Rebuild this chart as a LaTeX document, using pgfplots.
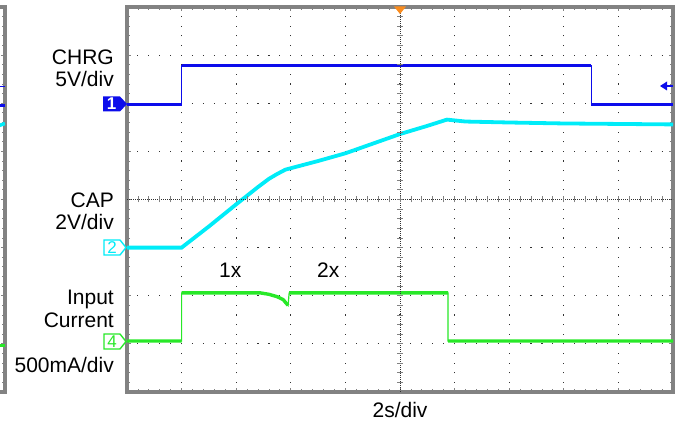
\documentclass[border=0pt]{standalone}
\usepackage{pgfplots}
\pgfplotsset{compat=1.18}
\usepackage{fontspec}
\setmainfont{Liberation Sans}
\definecolor{chblue}{RGB}{12,12,235}
\definecolor{chcyan}{RGB}{0,236,248}
\definecolor{chgreen}{RGB}{40,232,40}
\definecolor{scopegray}{RGB}{130,130,130}
\definecolor{dotgray}{RGB}{50,50,50}
\definecolor{trigorange}{RGB}{250,140,30}

% traces, x in time divisions (2 s/div), y in screen divisions
\pgfplotstableread{
x y
-5 1.98
-4.0 1.98
-4.0 2.78
3.5 2.78
3.5 1.98
5 1.98
}\chrg
\pgfplotstableread{
x y
-5 -1.0
-4.0 -1.0
-3.5 -0.56
-3.0 -0.10
-2.6 0.26
-2.4 0.43
-2.25 0.53
-2.1 0.62
-1.9 0.68
-1.5 0.80
-1.0 0.96
-0.4 1.20
0.0 1.36
0.5 1.53
0.86 1.66
1.2 1.62
2.0 1.60
3.0 1.58
4.0 1.57
5.0 1.56
}\cap
\pgfplotstableread{
x y
-5 -2.94
-4.0 -2.94
-4.0 -1.94
-2.56 -1.94
-2.40 -1.97
-2.25 -2.02
-2.14 -2.08
-2.05 -2.20
-2.03 -1.94
0.88 -1.94
0.88 -2.94
5 -2.94
}\icur

\pgfplotsset{
  scopeframe/.style={
    scale only axis, height=385bp,
    ymin=-4, ymax=4,
    ytick={-4,...,4}, minor y tick num=4,
    xticklabels={}, yticklabels={},
    tick align=inside,
    major tick length=4bp, minor tick length=3bp,
    tick style={scopegray, line width=0.8bp},
    axis line style={scopegray, line width=3.2bp},
  },
}

\begin{document}
\begin{tikzpicture}
% partial neighbouring screen at the left edge
\begin{axis}[scopeframe, at={(5bp,34bp)}, anchor=south east, width=100bp,
  xmin=0, xmax=1, xtick=\empty]
\addplot[chblue, line width=3bp] coordinates {(0.9,1.96) (1,1.96)};
\addplot[chblue, line width=1bp] coordinates {(0.9,2.34) (1,2.34)};
\addplot[chcyan, line width=3.5bp] coordinates {(0.92,1.52) (1,1.58)};
\addplot[chgreen, line width=3.5bp] coordinates {(0.92,-3.03) (1,-3.03)};
\end{axis}

\begin{axis}[scopeframe, at={(127bp,34bp)}, anchor=south west, width=546bp,
  xmin=-5, xmax=5, xtick={-5,...,5}, minor x tick num=4,
  grid=major,
  major x grid style={dotgray, line width=1.1bp, dash pattern=on 1.1bp off 8.525bp, dash phase=0.55bp},
  major y grid style={dotgray, line width=1.1bp, dash pattern=on 1.1bp off 9.82bp, dash phase=0.55bp},
  clip=false]
\addplot[chblue, line width=1.2bp] table {\chrg};
\addplot[chblue, line width=3.2bp, unbounded coords=jump] coordinates {(-5,1.98) (-4,1.98) (nan,nan) (-4,2.78) (3.5,2.78) (nan,nan) (3.5,1.98) (5,1.98)};
\addplot[chcyan, line width=3.8bp] table {\cap};
\addplot[chgreen, line width=1.2bp] table {\icur};
\addplot[chgreen, line width=3.4bp, unbounded coords=jump] coordinates {(-5,-2.94) (-4,-2.94) (nan,nan) (-4,-1.94) (-2.56,-1.94) (-2.40,-1.97) (-2.25,-2.02) (-2.14,-2.08) (-2.05,-2.20) (nan,nan) (-2.03,-1.94) (0.88,-1.94) (nan,nan) (0.88,-2.94) (5,-2.94)};
\end{axis}

% centre cross of the graticule
\draw[dotgray, line width=0.9bp, dash pattern=on 0.9bp off 1.1bp] (127bp,226.5bp) -- (673bp,226.5bp);
\draw[dotgray, line width=0.9bp, dash pattern=on 0.9bp off 1.1bp] (400bp,34bp) -- (400bp,419bp);
\foreach \i in {1,...,49} \draw[scopegray, line width=0.8bp] ({127bp+\i*10.92bp},223.5bp) -- ++(0,6bp);
\foreach \i in {1,...,39} \draw[scopegray, line width=0.8bp] (397bp,{34bp+\i*9.625bp}) -- ++(6bp,0);

% trigger markers
\fill[trigorange] (394bp,419.5bp) -- (406bp,419.5bp) -- (400bp,412bp) -- cycle;
\fill[chblue] (660bp,340bp) -- (667bp,344.5bp) -- (667bp,335.5bp) -- cycle;
\draw[chblue, line width=1.3bp] (666bp,340bp) -- (673bp,340bp);

% channel ground tags
\fill[chblue] (103bp,329.5bp) -- (120bp,329.5bp) -- (127bp,322bp) -- (120bp,314.5bp) -- (103bp,314.5bp) -- cycle;
\node[white, font=\fontsize{17bp}{17bp}\selectfont\bfseries] at (111.5bp,322bp) {1};
\draw[chcyan, line width=1.4bp, fill=white] (104bp,186bp) -- (120bp,186bp) -- (126bp,178.5bp) -- (120bp,171bp) -- (104bp,171bp) -- cycle;
\node[chcyan, font=\fontsize{17bp}{17bp}\selectfont] at (112bp,178.5bp) {2};
\draw[chgreen, line width=1.4bp, fill=white] (104bp,92bp) -- (120bp,92bp) -- (126bp,84.5bp) -- (120bp,77bp) -- (104bp,77bp) -- cycle;
\node[chgreen, font=\fontsize{17bp}{17bp}\selectfont] at (112bp,84.5bp) {4};

% labels
\begin{scope}[every node/.style={font=\fontsize{21bp}{24bp}\selectfont, inner sep=0pt}]
\node[anchor=base east] at (114bp,361bp) {CHRG};
\node[anchor=base east] at (114bp,339bp) {5V/div};
\node[anchor=base east] at (114bp,218bp) {CAP};
\node[anchor=base east] at (114bp,196bp) {2V/div};
\node[anchor=base east] at (114bp,121bp) {Input};
\node[anchor=base east] at (114bp,98bp) {Current};
\node[anchor=base east] at (114bp,53bp) {500mA/div};
\node[anchor=base west] at (219bp,148bp) {1x};
\node[anchor=base west] at (317bp,148bp) {2x};
\node[anchor=base] at (400bp,9bp) {2s/div};
\end{scope}

\pgfresetboundingbox
\useasboundingbox (0,0) rectangle (677bp,426bp);
\end{tikzpicture}
\end{document}
